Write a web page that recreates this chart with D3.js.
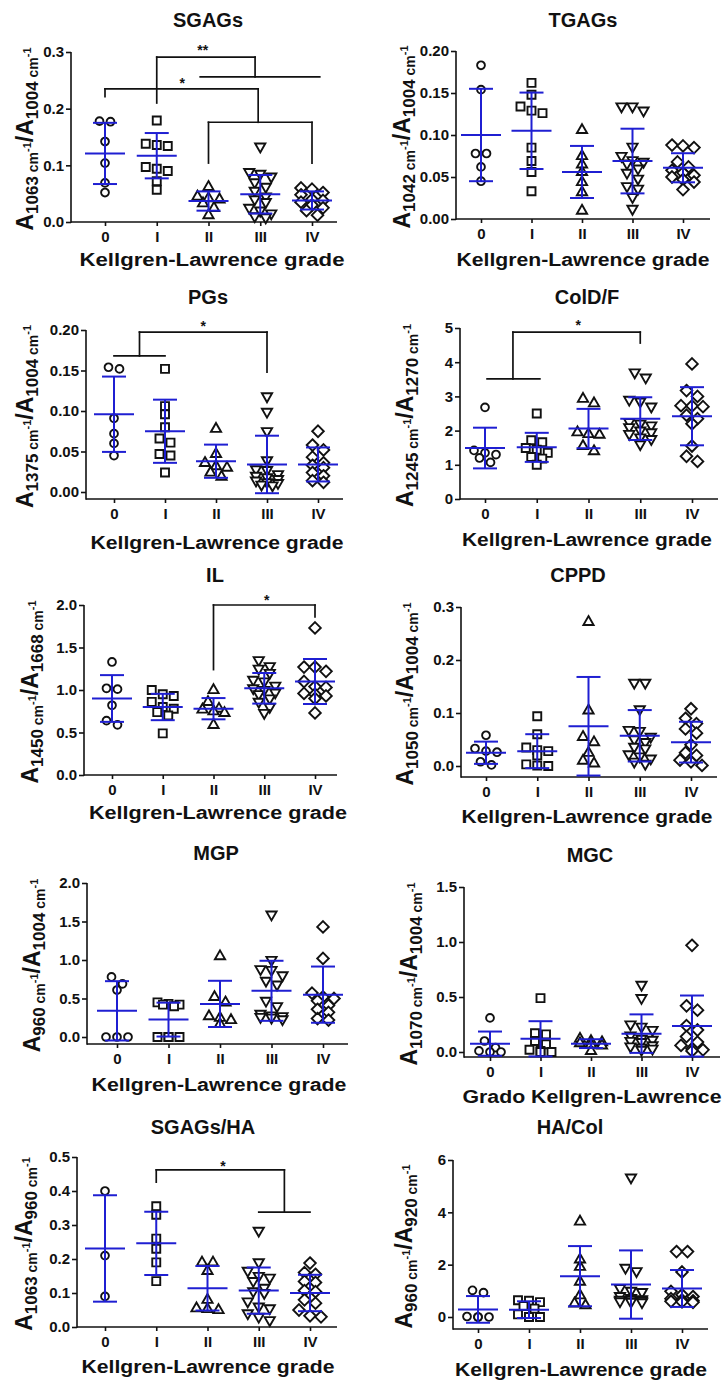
<!DOCTYPE html>
<html><head><meta charset="utf-8">
<script src="https://cdn.jsdelivr.net/npm/d3@7"></script>
<style>
body{margin:0;background:#fff}
svg{display:block}
text{font-family:"Liberation Sans",Arial,sans-serif;font-weight:bold;fill:#111}
</style>
</head><body><svg id="c" width="722" height="1382"></svg>
<script>
// ---------- categories ----------
const grades = ["0", "I", "II", "III", "IV"];
const shapes = ["circle", "square", "triangle", "triangleDown", "diamond"];

// ---------- SGAGs ----------
const sgagsValues = [
  [0.178, 0.177, 0.142, 0.104, 0.069, 0.052],
  [0.179, 0.138, 0.136, 0.134, 0.097, 0.094, 0.090, 0.072, 0.057],
  [0.062, 0.045, 0.042, 0.040, 0.033, 0.025, 0.012],
  [0.133, 0.088, 0.085, 0.080, 0.070, 0.062, 0.055, 0.045, 0.040, 0.035, 0.025, 0.020, 0.015, 0.010, 0.008],
  [0.060, 0.058, 0.052, 0.048, 0.040, 0.038, 0.035, 0.030, 0.025, 0.020, 0.012]
];
const sgagsMean = [0.121, 0.117, 0.037, 0.049, 0.038];
const sgagsSD = [0.054, 0.040, 0.017, 0.034, 0.016];
const sgagsTicks = [0, 0.1, 0.2, 0.3];
const sgagsBrackets = [
  [1, 0.21, 1, 0.291], [1, 0.291, 2.9, 0.291], [2.9, 0.291, 2.9, 0.256],
  [1.84, 0.256, 4.15, 0.256],
  [0, 0.221, 0, 0.235], [0, 0.235, 2.96, 0.235], [2.96, 0.235, 2.96, 0.176],
  [2, 0.176, 4, 0.176], [2, 0.176, 2, 0.104], [4, 0.176, 4, 0.104]
];
const sgagsStars = [[1.89, 0.309, "**"], [1.49, 0.251, "*"]];

// ---------- TGAGs ----------
const tgagsValues = [
  [0.183, 0.154, 0.078, 0.078, 0.062, 0.045],
  [0.162, 0.148, 0.134, 0.129, 0.126, 0.085, 0.069, 0.056, 0.033],
  [0.106, 0.075, 0.065, 0.056, 0.044, 0.032, 0.010],
  [0.134, 0.134, 0.129, 0.086, 0.075, 0.070, 0.068, 0.066, 0.060, 0.055, 0.048, 0.039, 0.036, 0.026, 0.012],
  [0.088, 0.087, 0.085, 0.068, 0.062, 0.058, 0.055, 0.052, 0.050, 0.047, 0.044, 0.035]
];
const tgagsMean = [0.100, 0.105, 0.056, 0.069, 0.061];
const tgagsSD = [0.055, 0.0455, 0.031, 0.0385, 0.0173];
const tgagsTicks = [0, 0.05, 0.10, 0.15, 0.20];

// ---------- PGs ----------
const pgsValues = [
  [0.154, 0.152, 0.091, 0.072, 0.060, 0.045],
  [0.152, 0.106, 0.096, 0.080, 0.066, 0.061, 0.047, 0.045, 0.024],
  [0.078, 0.047, 0.036, 0.032, 0.030, 0.024, 0.019],
  [0.118, 0.099, 0.075, 0.039, 0.028, 0.027, 0.022, 0.020, 0.018, 0.016, 0.014, 0.012, 0.011, 0.009, 0.008],
  [0.075, 0.058, 0.052, 0.043, 0.036, 0.033, 0.030, 0.024, 0.020, 0.014, 0.012]
];
const pgsMean = [0.096, 0.075, 0.038, 0.034, 0.034];
const pgsSD = [0.0465, 0.039, 0.0205, 0.0355, 0.021];
const pgsTicks = [0, 0.05, 0.10, 0.15, 0.20];
const pgsBrackets = [
  [0, 0.168, 1, 0.168],
  [0.5, 0.168, 0.5, 0.1975], [0.5, 0.1975, 3, 0.1975], [3, 0.1975, 3, 0.148]
];
const pgsStars = [[1.75, 0.2086, "*"]];

// ---------- ColD/F ----------
const coldfValues = [
  [2.68, 1.42, 1.35, 1.30, 1.20, 1.07],
  [2.50, 1.72, 1.66, 1.49, 1.44, 1.35, 1.23, 1.18, 1.00],
  [2.93, 2.80, 1.95, 1.90, 1.88, 1.55, 1.40],
  [3.70, 3.55, 2.90, 2.85, 2.70, 2.25, 2.20, 2.15, 2.10, 2.00, 1.95, 1.90, 1.80, 1.75, 1.60],
  [3.95, 3.17, 3.00, 2.73, 2.72, 2.70, 2.45, 2.35, 2.20, 1.55, 1.25, 1.10]
];
const coldfMean = [1.49, 1.51, 2.06, 2.35, 2.42];
const coldfSD = [0.595, 0.425, 0.575, 0.625, 0.85];
const coldfTicks = [0, 1, 2, 3, 4, 5];
const coldfBrackets = [
  [0.04, 3.51, 1.06, 3.51],
  [0.54, 3.51, 0.54, 4.88], [0.54, 4.88, 3, 4.88], [3, 4.88, 3, 4.56]
];
const coldfStars = [[1.8, 5.18, "*"]];

// ---------- IL ----------
const ilValues = [
  [1.33, 1.02, 1.01, 0.82, 0.64, 0.59],
  [1.00, 0.95, 0.93, 0.86, 0.80, 0.78, 0.74, 0.70, 0.49],
  [1.00, 0.86, 0.78, 0.77, 0.75, 0.73, 0.59],
  [1.35, 1.28, 1.25, 1.20, 1.12, 1.10, 1.05, 1.02, 1.00, 0.97, 0.95, 0.90, 0.86, 0.80, 0.73],
  [1.73, 1.27, 1.27, 1.22, 1.10, 1.04, 1.03, 0.96, 0.95, 0.93, 0.90, 0.73]
];
const ilMean = [0.90, 0.80, 0.78, 1.02, 1.10];
const ilSD = [0.275, 0.155, 0.125, 0.18, 0.265];
const ilTicks = [0, 0.5, 1.0, 1.5, 2.0];
const ilBrackets = [[2, 1.24, 2, 2.0], [2, 2.0, 4, 2.0], [4, 2.0, 4, 1.86]];
const ilStars = [[3.05, 2.09, "*"]];

// ---------- CPPD ----------
const cppdValues = [
  [0.058, 0.033, 0.028, 0.026, 0.008, 0.002],
  [0.094, 0.060, 0.035, 0.030, 0.028, 0.020, 0.003, 0.001, 0.000],
  [0.272, 0.105, 0.055, 0.045, 0.025, 0.010, 0.005],
  [0.157, 0.157, 0.107, 0.068, 0.066, 0.055, 0.050, 0.045, 0.036, 0.033, 0.022, 0.018, 0.014, 0.008, 0.004],
  [0.108, 0.090, 0.080, 0.070, 0.062, 0.040, 0.025, 0.020, 0.011, 0.008, 0.001]
];
const cppdMean = [0.025, 0.028, 0.075, 0.057, 0.045];
const cppdSD = [0.021, 0.032, 0.093, 0.0485, 0.0385];
const cppdTicks = [0, 0.1, 0.2, 0.3];

// ---------- MGP ----------
const mgpValues = [
  [0.78, 0.69, 0.61, 0.00, 0.00, 0.00],
  [0.45, 0.43, 0.42, 0.42, 0.40, 0.00, 0.00, 0.00, 0.00],
  [1.05, 0.52, 0.45, 0.27, 0.25, 0.22, 0.17],
  [1.59, 1.00, 0.88, 0.87, 0.80, 0.73, 0.68, 0.47, 0.40, 0.30, 0.28, 0.27, 0.26, 0.25, 0.23],
  [1.43, 1.02, 0.57, 0.52, 0.50, 0.47, 0.41, 0.36, 0.32, 0.24, 0.22]
];
const mgpMean = [0.34, 0.226, 0.43, 0.60, 0.55];
const mgpSD = [0.385, 0.22, 0.30, 0.39, 0.365];
const mgpTicks = [0, 0.5, 1.0, 1.5, 2.0];

// ---------- MGC ----------
const mgcValues = [
  [0.31, 0.10, 0.04, 0.01, 0.00, 0.00],
  [0.49, 0.17, 0.16, 0.10, 0.07, 0.02, 0.01, 0.00, 0.00],
  [0.12, 0.10, 0.09, 0.08, 0.07, 0.06, 0.01],
  [0.61, 0.49, 0.25, 0.23, 0.20, 0.15, 0.12, 0.11, 0.10, 0.09, 0.06, 0.05, 0.04, 0.03, 0.02],
  [0.97, 0.42, 0.38, 0.24, 0.20, 0.14, 0.09, 0.06, 0.03, 0.02, 0.01]
];
const mgcMean = [0.076, 0.12, 0.076, 0.167, 0.236];
const mgcSD = [0.11, 0.16, 0.04, 0.175, 0.2775];
const mgcTicks = [0, 0.5, 1.0, 1.5];

// ---------- SGAGs/HA ----------
const sgagsHaValues = [
  [0.40, 0.21, 0.09],
  [0.355, 0.33, 0.26, 0.23, 0.19, 0.135],
  [0.19, 0.19, 0.165, 0.08, 0.055, 0.053, 0.05],
  [0.283, 0.19, 0.165, 0.15, 0.145, 0.135, 0.115, 0.105, 0.10, 0.075, 0.06, 0.055, 0.04, 0.03, 0.02],
  [0.188, 0.16, 0.155, 0.134, 0.131, 0.107, 0.104, 0.08, 0.07, 0.05, 0.033, 0.03]
];
const sgagsHaMean = [0.231, 0.246, 0.114, 0.107, 0.10];
const sgagsHaSD = [0.1565, 0.093, 0.0655, 0.068, 0.0535];
const sgagsHaTicks = [0, 0.1, 0.2, 0.3, 0.4, 0.5];
const sgagsHaBrackets = [
  [1, 0.426, 1, 0.462], [1, 0.462, 3.5, 0.462], [3.5, 0.462, 3.5, 0.338],
  [3, 0.338, 4, 0.338]
];
const sgagsHaStars = [[2.3, 0.482, "*"]];

// ---------- HA/Col ----------
const haColValues = [
  [1.02, 0.93, 0.02, 0.00, 0.00, 0.00],
  [0.64, 0.62, 0.57, 0.42, 0.32, 0.10, 0.00, 0.00, 0.00],
  [3.65, 2.20, 1.92, 1.35, 0.83, 0.52, 0.45],
  [5.33, 1.88, 1.75, 1.10, 1.00, 0.95, 0.80, 0.72, 0.68, 0.66, 0.65, 0.62, 0.60, 0.58, 0.56],
  [2.50, 2.50, 1.72, 0.98, 0.85, 0.78, 0.70, 0.65, 0.62, 0.60, 0.58, 0.56]
];
const haColMean = [0.29, 0.28, 1.56, 1.24, 1.09];
const haColSD = [0.51, 0.32, 1.15, 1.305, 0.705];
const haColTicks = [0, 2, 4, 6];

// ---------- panel definitions (data wiring) ----------
const panels = [
  {title: "SGAGs", values: sgagsValues, mean: sgagsMean, sd: sgagsSD, ticks: sgagsTicks, fmt: ".1f", num: "1063", den: "1004", xTitle: "Kellgren-Lawrence grade", brackets: sgagsBrackets, stars: sgagsStars},
  {title: "TGAGs", values: tgagsValues, mean: tgagsMean, sd: tgagsSD, ticks: tgagsTicks, fmt: ".2f", num: "1042", den: "1004", xTitle: "Kellgren-Lawrence grade", brackets: [], stars: []},
  {title: "PGs", values: pgsValues, mean: pgsMean, sd: pgsSD, ticks: pgsTicks, fmt: ".2f", num: "1375", den: "1004", xTitle: "Kellgren-Lawrence grade", brackets: pgsBrackets, stars: pgsStars},
  {title: "ColD/F", values: coldfValues, mean: coldfMean, sd: coldfSD, ticks: coldfTicks, fmt: "d", num: "1245", den: "1270", xTitle: "Kellgren-Lawrence grade", brackets: coldfBrackets, stars: coldfStars},
  {title: "IL", values: ilValues, mean: ilMean, sd: ilSD, ticks: ilTicks, fmt: ".1f", num: "1450", den: "1668", xTitle: "Kellgren-Lawrence grade", brackets: ilBrackets, stars: ilStars},
  {title: "CPPD", values: cppdValues, mean: cppdMean, sd: cppdSD, ticks: cppdTicks, fmt: ".1f", num: "1050", den: "1004", xTitle: "Kellgren-Lawrence grade", brackets: [], stars: []},
  {title: "MGP", values: mgpValues, mean: mgpMean, sd: mgpSD, ticks: mgpTicks, fmt: ".1f", num: "960", den: "1004", xTitle: "Kellgren-Lawrence grade", brackets: [], stars: []},
  {title: "MGC", values: mgcValues, mean: mgcMean, sd: mgcSD, ticks: mgcTicks, fmt: ".1f", num: "1070", den: "1004", xTitle: "Grado Kellgren-Lawrence", brackets: [], stars: []},
  {title: "SGAGs/HA", values: sgagsHaValues, mean: sgagsHaMean, sd: sgagsHaSD, ticks: sgagsHaTicks, fmt: ".1f", num: "1063", den: "960", xTitle: "Kellgren-Lawrence grade", brackets: sgagsHaBrackets, stars: sgagsHaStars},
  {title: "HA/Col", values: haColValues, mean: haColMean, sd: haColSD, ticks: haColTicks, fmt: "d", num: "960", den: "920", xTitle: "Kellgren-Lawrence grade", brackets: [], stars: []}
];

// ---------- layout (pixels) ----------
const layouts = [
  {ax: 71, xe: 337, yTop: 52, y0: 222, xa: 222, c0: 105, c4: 312, tx: 208, ty: 27, xtX: 212, xtY: 266, xtW: 265, ylX: 33},
  {ax: 456, xe: 710, yTop: 51, y0: 219, xa: 219, c0: 481, c4: 683, tx: 583, ty: 27, xtX: 583, xtY: 266, xtW: 253, ylX: 410},
  {ax: 86, xe: 343, yTop: 330, y0: 492, xa: 499, c0: 114, c4: 318, tx: 208, ty: 304, xtX: 217, xtY: 549, xtW: 253, ylX: 33},
  {ax: 460, xe: 718, yTop: 328, y0: 499, xa: 499, c0: 485, c4: 692, tx: 587, ty: 304, xtX: 587, xtY: 546, xtW: 250, ylX: 413},
  {ax: 84, xe: 337, yTop: 605, y0: 775, xa: 775, c0: 112, c4: 315, tx: 215, ty: 582, xtX: 218, xtY: 819, xtW: 258, ylX: 38},
  {ax: 461, xe: 717, yTop: 607, y0: 766, xa: 777, c0: 486, c4: 691, tx: 578, ty: 582, xtX: 587, xtY: 823, xtW: 251, ylX: 413},
  {ax: 87, xe: 348, yTop: 883, y0: 1037, xa: 1044, c0: 117, c4: 323, tx: 216, ty: 860, xtX: 219, xtY: 1091, xtW: 255, ylX: 40},
  {ax: 464, xe: 720, yTop: 887, y0: 1052, xa: 1057, c0: 490, c4: 692, tx: 590, ty: 862, xtX: 592, xtY: 1103, xtW: 259, ylX: 417},
  {ax: 77, xe: 337, yTop: 1157, y0: 1327, xa: 1327, c0: 105, c4: 310, tx: 203, ty: 1134, xtX: 208, xtY: 1373, xtW: 253, ylX: 32},
  {ax: 453, xe: 708, yTop: 1160, y0: 1317, xa: 1329, c0: 478, c4: 682, tx: 570, ty: 1134, xtX: 581, xtY: 1376, xtW: 252, ylX: 412}
];

const BLUE = "#1f1fd2";
const INK = "#111";
const markerPaths = {
  circle: d3.symbol(d3.symbolCircle, Math.PI * 3.9 * 3.9)(),
  square: "M-4,-4H4V4H-4Z",
  triangle: "M0,-5.8L5.1,3.1L-5.1,3.1Z",
  triangleDown: "M0,5.8L5.1,-3.1L-5.1,-3.1Z",
  diamond: "M0,-5.8L5.8,0L0,5.8L-5.8,0Z"
};

const svg = d3.select("#c");

// simple GraphPad-like row layout for scatter points
function swarm(vals, y, step, thr, maxPer) {
  const pts = vals.map((v, i) => ({v, py: y(v), i})).sort((a, b) => a.py - b.py);
  const rows = [];
  let cur = null;
  pts.forEach(p => {
    if (!cur || p.py - cur.start >= thr || cur.items.length >= maxPer) {
      cur = {start: p.py, items: []};
      rows.push(cur);
    }
    cur.items.push(p);
  });
  rows.forEach(r => {
    const k = r.items.length;
    r.items.forEach((p, j) => { p.dx = (j - (k - 1) / 2) * step; });
  });
  return pts;
}

panels.forEach((P, pi) => {
  const L = layouts[pi];
  const yMax = d3.max(P.ticks);
  const y = d3.scaleLinear().domain([0, yMax]).range([L.y0, L.yTop]);
  const x = d3.scaleLinear().domain([0, 4]).range([L.c0, L.c4]);
  const g = svg.append("g");

  // title
  g.append("text").attr("x", L.tx).attr("y", L.ty).attr("text-anchor", "middle")
    .style("font-size", "20px").text(P.title);

  // y axis
  const yAxis = d3.axisLeft(y).tickValues(P.ticks).tickFormat(d3.format(P.fmt))
    .tickSize(5).tickSizeOuter(0).tickPadding(2);
  const ya = g.append("g").attr("transform", `translate(${L.ax},0)`).call(yAxis);
  ya.select(".domain").remove();
  ya.selectAll(".tick line").attr("stroke", INK).attr("stroke-width", 1.6);
  ya.selectAll(".tick text").style("font-size", "15px").style("font-family", "'Liberation Sans',Arial,sans-serif").style("font-weight", "bold").attr("fill", INK);
  g.append("line").attr("x1", L.ax).attr("x2", L.ax).attr("y1", L.xa + 0.8).attr("y2", L.yTop)
    .attr("stroke", INK).attr("stroke-width", 1.6);

  // x axis
  const xAxis = d3.axisBottom(x).tickValues([0, 1, 2, 3, 4]).tickFormat(i => grades[i])
    .tickSize(4).tickSizeOuter(0).tickPadding(5);
  const xa = g.append("g").attr("transform", `translate(0,${L.xa})`).call(xAxis);
  xa.select(".domain").remove();
  xa.selectAll(".tick line").attr("stroke", INK).attr("stroke-width", 1.6);
  xa.selectAll(".tick text").style("font-size", "15px").style("font-family", "'Liberation Sans',Arial,sans-serif").style("font-weight", "bold").attr("fill", INK);
  g.append("line").attr("x1", L.ax).attr("x2", L.xe).attr("y1", L.xa).attr("y2", L.xa)
    .attr("stroke", INK).attr("stroke-width", 1.6);

  // x title
  g.append("text").attr("x", L.xtX).attr("y", L.xtY).attr("text-anchor", "middle")
    .attr("textLength", L.xtW).attr("lengthAdjust", "spacingAndGlyphs")
    .style("font-size", "18px").text(P.xTitle);

  // y label  A_num cm^-1 / A_den cm^-1
  const yl = g.append("text").attr("text-anchor", "middle")
    .attr("transform", `translate(${L.ylX},${(L.yTop + L.xa) / 2 + 2}) rotate(-90)`);
  const parts = [
    ["A", 23, 0], [P.num, 17, 5], [" cm", 14, 0], ["-1", 11, -7],
    ["/A", 23, 2], [P.den, 17, 5], [" cm", 14, 0], ["-1", 11, -7]
  ];
  parts.forEach(([t, fs, dy]) => {
    yl.append("tspan").attr("dy", dy).style("font-size", fs + "px").text(t);
  });

  // brackets
  g.selectAll("line.br").data(P.brackets).join("line").attr("class", "br")
    .attr("x1", d => x(d[0])).attr("y1", d => y(d[1]))
    .attr("x2", d => x(d[2])).attr("y2", d => y(d[3]))
    .attr("stroke", INK).attr("stroke-width", 1.7).attr("stroke-linecap", "square");
  g.selectAll("text.star").data(P.stars).join("text").attr("class", "star")
    .attr("x", d => x(d[0])).attr("y", d => y(d[1]) + 8).attr("text-anchor", "middle")
    .style("font-size", "14px").text(d => d[2]);

  // points
  P.values.forEach((vals, gi) => {
    const pts = swarm(vals, y, 11, 7, 3);
    g.append("g").selectAll("path").data(pts).join("path")
      .attr("d", markerPaths[shapes[gi]])
      .attr("transform", d => `translate(${x(gi) + d.dx},${y(d.v)})`)
      .attr("fill", "#fff").attr("stroke", INK).attr("stroke-width", 1.9);
  });

  // mean +- SD
  const eb = g.append("g").attr("stroke", BLUE).attr("stroke-width", 2);
  grades.forEach((gr, gi) => {
    const m = P.mean[gi], s = P.sd[gi], cx = x(gi);
    eb.append("line").attr("x1", cx).attr("x2", cx).attr("y1", y(m - s)).attr("y2", y(m + s));
    eb.append("line").attr("x1", cx - 20).attr("x2", cx + 20).attr("y1", y(m)).attr("y2", y(m));
    eb.append("line").attr("x1", cx - 12).attr("x2", cx + 12).attr("y1", y(m + s)).attr("y2", y(m + s));
    eb.append("line").attr("x1", cx - 12).attr("x2", cx + 12).attr("y1", y(m - s)).attr("y2", y(m - s));
  });
});
</script>
</body></html>
